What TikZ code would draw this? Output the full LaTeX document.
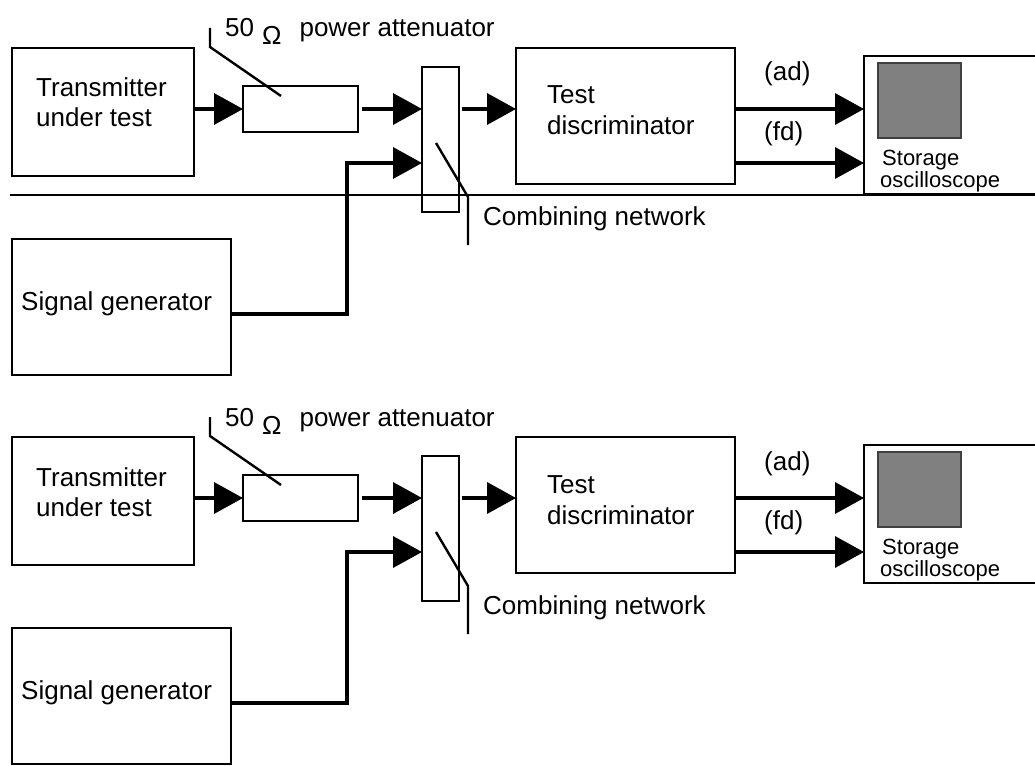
\documentclass[tikz,border=0pt]{standalone}
\usepackage{fontspec}
\setmainfont{Liberation Sans}
\usetikzlibrary{arrows.meta}
\tikzset{
  box/.style={draw, line width=1.8pt, inner sep=0pt, outer sep=0pt, anchor=north west},
  lbl/.style={anchor=base west, inner sep=0pt, font=\fontsize{26}{30}\selectfont},
  smalllbl/.style={anchor=base west, inner sep=0pt, font=\fontsize{22}{26}\selectfont},
  conn/.style={line width=3.6pt, -{Triangle[length=29pt,width=31pt]}},
  leader/.style={line width=2.4pt},
  screen/.style={draw=black!75, fill=gray, line width=1.2pt, anchor=north west, inner sep=0pt, outer sep=0pt},
}
\newcommand\setupdiagram[2]{%
\begin{scope}[yshift=-#2pt]
  % boxes
  \node[box, minimum width=182pt, minimum height=128pt] (#1tx) at (12,48) {};
  \node[box, minimum width=115pt, minimum height=46pt] (#1att) at (243,86) {};
  \node[box, minimum width=37pt, minimum height=145pt] (#1cn) at (422,67) {};
  \node[box, minimum width=219pt, minimum height=136pt] (#1td) at (516,48) {};
  \node[box, minimum width=200pt, minimum height=138pt] (#1osc) at (864,56) {};
  \node[screen, minimum width=83pt, minimum height=75pt] (#1scr) at (878,63) {};
  \node[box, minimum width=219pt, minimum height=136pt] (#1sg) at (12,239) {};
  % texts
  \node[lbl] (#1t1) at (36,97) {Transmitter};
  \node[lbl] (#1t2) at (36,127) {under test};
  \node[lbl] (#1t3) at (547,104) {Test};
  \node[lbl] (#1t4) at (547,135) {discriminator};
  \node[lbl] (#1t5) at (21,310) {Signal generator};
  \node[smalllbl] (#1t6) at (882,165) {Storage};
  \node[smalllbl] (#1t7) at (880,187) {oscilloscope};
  \node[lbl] (#1t8) at (764,81) {(ad)};
  \node[lbl] (#1t9) at (764,140) {(fd)};
  \node[lbl] (#1t10) at (483,225) {Combining network};
  \node[lbl] (#1t11) at (225,37) {50\hspace{8pt}\raisebox{-8pt}{\fontsize{26}{26}\selectfont Ω}\hspace{18pt}power attenuator};
  % helper coordinates
  \coordinate (#1ya) at (0,109);
  \coordinate (#1yb) at (0,163);
  \coordinate (#1j) at (347,314);
  \coordinate (#1la) at (281,96);
  \coordinate (#1lb) at (210,47);
  \coordinate (#1lc) at (210,28);
  \coordinate (#1ma) at (436,143);
  \coordinate (#1mb) at (468,197);
  \coordinate (#1mc) at (468,245);
  % connectors
  \draw[conn] (#1tx.east |- #1ya) -- (#1att.west |- #1ya);
  \draw[conn, shorten <=4pt] (#1att.east |- #1ya) -- (#1cn.west |- #1ya);
  \draw[conn, shorten <=3pt] (#1cn.east |- #1ya) -- (#1td.west |- #1ya);
  \draw[conn] (#1sg.east |- #1j) -- (#1j) |- (#1cn.west |- #1yb);
  \draw[conn] (#1td.east |- #1ya) -- (#1osc.west |- #1ya);
  \draw[conn] (#1td.east |- #1yb) -- (#1osc.west |- #1yb);
  % leaders
  \draw[leader] (#1la) -- (#1lb) -- (#1lc);
  \draw[leader] (#1ma) -- (#1mb) -- (#1mc);
\end{scope}}
\begin{document}
\begin{tikzpicture}[x=1pt, y=-1pt]
  \path[use as bounding box, fill=white] (0,0) rectangle (1035,765);
  \clip (0,0) rectangle (1035,765);
  \setupdiagram{a}{0}
  \coordinate (sepl) at (10,195);
  \coordinate (sepr) at (1035,195);
  \draw[line width=2.8pt] (sepl) -- (sepr);
  \setupdiagram{b}{389}
\end{tikzpicture}
\end{document}
